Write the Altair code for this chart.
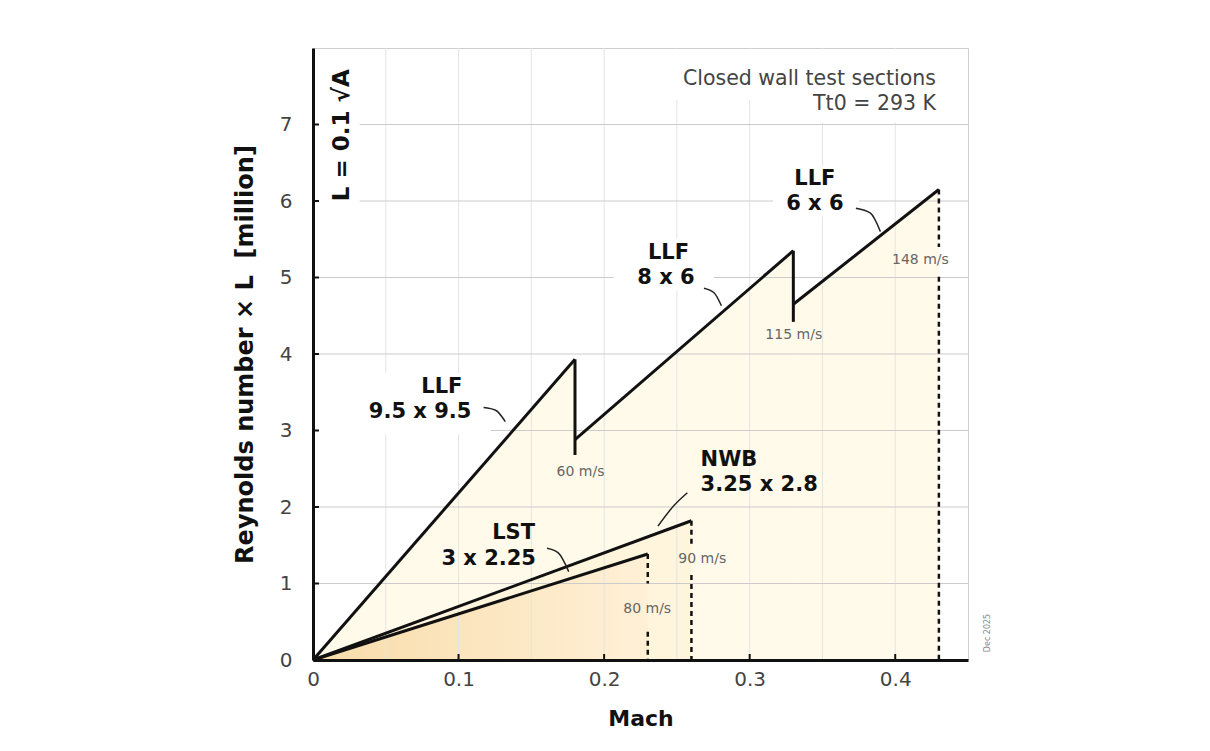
import altair as alt
import pandas as pd

# ---------------- data ----------------
# LLF (three test sections sharing one circuit): straight segments (Mach, Re*L)
llf_names = ["LLF 9.5 x 9.5", "LLF 8 x 6", "LLF 6 x 6"]
llf_mach_start = [0.0, 0.18, 0.33]
llf_re_start = [0.0, 2.88, 4.65]
llf_mach_end = [0.18, 0.33, 0.43]
llf_re_end = [3.93, 5.35, 6.15]

# vertical drops where one test section hands over to the next
drop_mach = [0.18, 0.33]
drop_re_top = [3.93, 5.35]
drop_re_bottom = [2.68, 4.42]

# small tunnels: from origin to their maximum
small_names = ["NWB 3.25 x 2.8", "LST 3 x 2.25"]
small_mach_end = [0.26, 0.23]
small_re_end = [1.82, 1.385]

# dashed speed limits (with a gap behind the label)
limit_mach = [0.23, 0.26, 0.43]
limit_re_top = [1.385, 1.82, 6.15]
limit_gap_top = [1.0, 1.52, 5.40]
limit_gap_bottom = [0.37, 1.11, 5.01]

speed_labels = ["60 m/s", "115 m/s", "148 m/s", "90 m/s", "80 m/s"]
speed_mach = [0.1838, 0.3303, 0.4173, 0.2674, 0.2296]
speed_re = [2.46, 4.25, 5.23, 1.316, 0.662]

name_text = ["LLF", "9.5 x 9.5", "LLF", "8 x 6", "LLF", "6 x 6", "LST", "3 x 2.25"]
name_mach = [0.0885, 0.0736, 0.2442, 0.2425, 0.3448, 0.3448, 0.1378, 0.1207]
name_re = [3.57, 3.245, 5.325, 4.99, 6.29, 5.96, 1.656, 1.316]

nwb_text = ["NWB", "3.25 x 2.8"]
nwb_mach = [0.2663, 0.2663]
nwb_re = [2.614, 2.288]

note_text = ["Closed wall test sections", "Tt0 = 293 K"]
note_mach = [0.428, 0.428]
note_re = [7.6, 7.27]

# leader lines (label -> curve)
leader_id = ["a", "a", "a", "b", "b", "b", "c", "c", "c", "d", "d", "d", "e", "e", "e"]
leader_mach = [0.1172, 0.1255, 0.1321,
               0.1608, 0.1685, 0.1757,
               0.2572, 0.2480, 0.2370,
               0.2686, 0.2755, 0.2806,
               0.3730, 0.3830, 0.3898]
leader_re = [3.30, 3.265, 3.115,
             1.46, 1.40, 1.155,
             2.187, 2.02, 1.75,
             4.86, 4.80, 4.63,
             5.905, 5.84, 5.60]

# white boxes behind labels (hide grid lines)
box_mach = [0.001, 0.245, 0.33, 0.316, 0.2065, 0.001]
box_mach2 = [0.032, 0.445, 0.445, 0.375, 0.2753, 0.122]
box_re = [5.88, 7.32, 7.03, 5.80, 4.83, 2.95]
box_re2 = [7.85, 7.985, 7.32, 6.45, 5.50, 3.75]

x_grid = [0.05, 0.1, 0.15, 0.2, 0.25, 0.3, 0.35, 0.4]
y_grid = [1, 2, 3, 4, 5, 6, 7]
x_ticks = [0.0, 0.1, 0.2, 0.3, 0.4]
y_ticks = [0, 1, 2, 3, 4, 5, 6, 7]

# ---------------- tables ----------------
llf_rows = []
for n, ms, rs, me, re_ in zip(llf_names, llf_mach_start, llf_re_start, llf_mach_end, llf_re_end):
    llf_rows.append({"name": n, "m": ms, "r": rs, "r0": 0.0})
    llf_rows.append({"name": n, "m": me, "r": re_, "r0": 0.0})
llf_df = pd.DataFrame(llf_rows)

small_rows = []
for n, me, re_ in zip(small_names, small_mach_end, small_re_end):
    small_rows.append({"name": n, "m": 0.0, "r": 0.0, "r0": 0.0})
    small_rows.append({"name": n, "m": me, "r": re_, "r0": 0.0})
small_df = pd.DataFrame(small_rows)

drop_df = pd.DataFrame({"m": drop_mach, "r": drop_re_top, "r2": drop_re_bottom})

dash_rows = []
for m, t, gt, gb in zip(limit_mach, limit_re_top, limit_gap_top, limit_gap_bottom):
    dash_rows.append({"m": m, "r": t, "r2": gt})
    dash_rows.append({"m": m, "r": gb, "r2": 0.0})
dash_df = pd.DataFrame(dash_rows)

speed_df = pd.DataFrame({"t": speed_labels, "m": speed_mach, "r": speed_re})
name_df = pd.DataFrame({"t": name_text, "m": name_mach, "r": name_re})
nwb_df = pd.DataFrame({"t": nwb_text, "m": nwb_mach, "r": nwb_re})
note_df = pd.DataFrame({"t": note_text, "m": note_mach, "r": note_re})
leader_df = pd.DataFrame({"id": leader_id, "m": leader_mach, "r": leader_re})
box_df = pd.DataFrame({"m": box_mach, "m2": box_mach2, "r": box_re, "r2": box_re2})
xg_df = pd.DataFrame({"m": x_grid})
yg_df = pd.DataFrame({"r": y_grid})
xt_df = pd.DataFrame({"m": x_ticks})
yt_df = pd.DataFrame({"r": y_ticks})

# ---------------- encodings ----------------
W, H = 655, 612
FONT = "DejaVu Sans"

x_scale = alt.Scale(domain=[0, 0.45], nice=False, zero=False)
y_scale = alt.Scale(domain=[0, 8], nice=False, zero=False)

x_axis = alt.Axis(values=x_ticks, format="~g", grid=False, ticks=False, tickSize=0,
                  labelFlush=False, zindex=1,
                  domainColor="#111", domainWidth=3, labelFont=FONT, labelFontSize=20,
                  labelColor="#444", labelPadding=9, titleFont=FONT, titleFontSize=22,
                  titleFontWeight="bold", titleColor="#111", titlePadding=19)
y_axis = alt.Axis(values=y_ticks, format="d", grid=False, ticks=False, tickSize=0,
                  labelFlush=False, zindex=1,
                  domainColor="#111", domainWidth=3, labelFont=FONT, labelFontSize=20,
                  labelColor="#444", labelPadding=21, titleFont=FONT, titleFontSize=24,
                  titleFontWeight="bold", titleColor="#111", titlePadding=22)

X = alt.X("m:Q", scale=x_scale, axis=x_axis, title="Mach")
Y = alt.Y("r:Q", scale=y_scale, axis=y_axis,
          title="Reynolds number × L\u00a0\u00a0[million]")

# fills
llf_fill = alt.Chart(llf_df).mark_area(color="#fffaea", opacity=1).encode(
    x=X, y=Y, y2="r0:Q", detail="name:N")
nwb_fill = alt.Chart(small_df[small_df["name"] == small_names[0]]).mark_area(
    color="#fff4dc", opacity=1).encode(x=X, y=Y, y2="r0:Q")
lst_fill = alt.Chart(small_df[small_df["name"] == small_names[1]]).mark_area(
    color=alt.Gradient(gradient="linear",
                       stops=[alt.GradientStop(color="#f8dcaa", offset=0),
                              alt.GradientStop(color="#fff0d6", offset=1)],
                       x1=0, x2=1, y1=0, y2=0),
    opacity=1).encode(x=X, y=Y, y2="r0:Q")

# grid
x_grid_layer = alt.Chart(xg_df).mark_rule(color="#e4e4e4", strokeWidth=1).encode(
    x=X, y=alt.value(0), y2=alt.value(H))
y_grid_layer = alt.Chart(yg_df).mark_rule(color="#cbcbcb", strokeWidth=1).encode(
    y=Y, x=alt.value(0), x2=alt.value(W))

boxes = alt.Chart(box_df).mark_rect(color="white").encode(
    x=X, x2="m2:Q", y=Y, y2="r2:Q")

# lines
dash_layer = alt.Chart(dash_df).mark_rule(color="#111", strokeWidth=2.5, strokeDash=[5, 4]).encode(
    x=X, y=Y, y2="r2:Q")
drop_layer = alt.Chart(drop_df).mark_rule(color="#111", strokeWidth=3).encode(
    x=X, y=Y, y2="r2:Q")
llf_lines = alt.Chart(llf_df).mark_line(color="#111", strokeWidth=3).encode(
    x=X, y=Y, detail="name:N")
small_lines = alt.Chart(small_df).mark_line(color="#111", strokeWidth=3).encode(
    x=X, y=Y, detail="name:N")
leaders = alt.Chart(leader_df).mark_line(color="#222", strokeWidth=1.5, interpolate="monotone").encode(
    x=X, y=Y, detail="id:N")

# ticks (inside)
x_tick_layer = alt.Chart(xt_df).mark_rule(color="#111", strokeWidth=2).encode(
    x=X, y=alt.value(H), y2=alt.value(H - 6))
y_tick_layer = alt.Chart(yt_df).mark_rule(color="#111", strokeWidth=2).encode(
    y=Y, x=alt.value(0), x2=alt.value(6))

# texts
name_layer = alt.Chart(name_df).mark_text(font=FONT, fontSize=21, fontWeight="bold", color="#111",
                                          align="center", baseline="middle").encode(x=X, y=Y, text="t:N")
nwb_layer = alt.Chart(nwb_df).mark_text(font=FONT, fontSize=21, fontWeight="bold", color="#111",
                                        align="left", baseline="middle").encode(x=X, y=Y, text="t:N")
speed_layer = alt.Chart(speed_df).mark_text(font=FONT, fontSize=14, color="#666",
                                            align="center", baseline="middle").encode(x=X, y=Y, text="t:N")
note_layer = alt.Chart(note_df).mark_text(font=FONT, fontSize=20.5, color="#444",
                                          align="right", baseline="middle").encode(x=X, y=Y, text="t:N")
lnote_df = pd.DataFrame({"t": ["L = 0.1 √A"], "m": [0.0197], "r": [6.86]})
lnote_layer = alt.Chart(lnote_df).mark_text(font=FONT, fontSize=23, fontWeight="bold", color="#111",
                                            angle=270, align="center", baseline="middle").encode(
    x=X, y=Y, text="t:N")
date_df = pd.DataFrame({"t": ["Dec 2025"], "m": [0.4639], "r": [0.353]})
date_layer = alt.Chart(date_df).mark_text(font=FONT, fontSize=8, color="#888",
                                          angle=270, align="center", baseline="middle").encode(
    x=X, y=Y, text="t:N")

chart = alt.layer(
    llf_fill, nwb_fill, lst_fill,
    x_grid_layer, y_grid_layer, boxes,
    dash_layer, drop_layer, llf_lines, small_lines, leaders,
    x_tick_layer, y_tick_layer,
    name_layer, nwb_layer, speed_layer, note_layer, lnote_layer, date_layer,
).properties(
    width=W, height=H,
    autosize=alt.AutoSizeParams(type="none"),
    padding={"left": 305, "top": 40, "right": 230, "bottom": 83},
    background="white",
).configure_view(stroke="#cfcfcf", strokeWidth=1)

chart.save("out.html", embed_options={"renderer": "svg", "actions": False})
